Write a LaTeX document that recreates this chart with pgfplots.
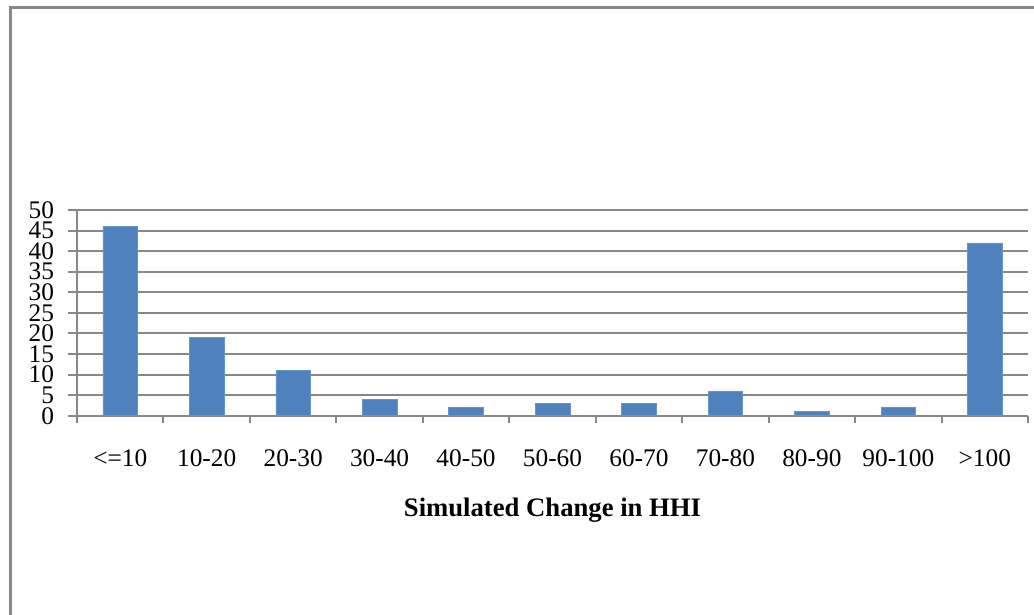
\documentclass[border=0pt]{standalone}
\usepackage{pgfplots}
\pgfplotsset{compat=1.18}
\usepackage{fontspec}
\setmainfont{Liberation Serif}
\definecolor{barblue}{HTML}{4F81BD}
\definecolor{linegray}{HTML}{888888}
\begin{document}
\begin{tikzpicture}[x=0.75pt,y=0.75pt]
% page area, origin at the top-left corner
\useasboundingbox (0,0) rectangle (1034,-614);
% outer chart border (runs off the right and bottom edges)
\draw[linegray, line width=2.25pt] (10.5,-640) -- (10.5,-7.5) -- (1060,-7.5);
\begin{axis}[
  at={(57.75pt,-311.8pt)}, anchor=south west,
  scale only axis,
  width=713.25pt, height=154.3pt,
  xmin=-0.5, xmax=10.5, ymin=0, ymax=50,
  axis x line*=bottom, axis y line*=left,
  axis line style={linegray, line width=1.5pt, -},
  ymajorgrids,
  grid style={linegray, line width=1.5pt},
  ytick={0,5,...,50},
  xtick={0,...,10},
  xticklabels={<=10,10-20,20-30,30-40,40-50,50-60,60-70,70-80,80-90,90-100,>100},
  minor xtick={-0.5,0.5,...,10.5},
  tick align=outside,
  major x tick style={draw=none},
  minor x tick style={linegray, line width=1.5pt},
  y tick style={linegray, line width=1.5pt},
  major tick length=6.75pt,
  minor tick length=5.25pt,
  /pgf/number format/assume math mode=true,
  tick label style={font=\fontsize{19}{19}\selectfont},
  yticklabel style={xshift=-7pt, inner ysep=0pt},
  xticklabel style={yshift=-15pt},
  xlabel={\textbf{Simulated Change in HHI}},
  xlabel style={font=\fontsize{20}{20}\selectfont, yshift=-17pt},
  ]
  \addplot[ybar, bar width=25.95pt, fill=barblue, draw=barblue!85!white]
    coordinates {(0,46) (1,19) (2,11) (3,4) (4,2) (5,3) (6,3) (7,6) (8,1) (9,2) (10,42)};
\end{axis}
\end{tikzpicture}
\end{document}
